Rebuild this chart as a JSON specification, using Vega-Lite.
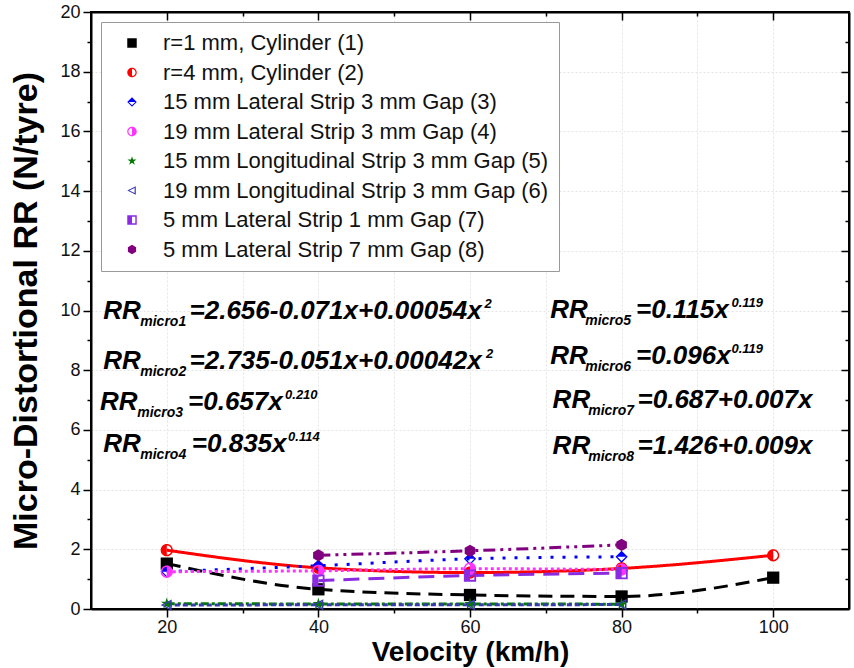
{
  "$schema": "https://vega.github.io/schema/vega-lite/v6.json",
  "width": 758,
  "height": 597,
  "autosize": {"type": "none"},
  "padding": {"left": 91, "top": 12, "right": 5, "bottom": 59},
  "background": "white",
  "config": {
    "view": {"stroke": "black", "strokeWidth": 2},
    "font": "Liberation Sans",
    "axis": {
      "domainColor": "black", "domainWidth": 2, "tickColor": "black", "tickWidth": 1.5,
      "labelFont": "Liberation Sans", "labelFontSize": 18, "labelColor": "#111",
      "titleFont": "Liberation Sans", "titleFontWeight": "bold", "titleColor": "black",
      "gridColor": "#e4e4e4", "gridDash": [2, 2], "gridWidth": 1
    }
  },
  "datasets": {
    "pts": [
      {"s": "r=1 mm, Cylinder (1)", "v": 20, "rr": 1.52},
      {"s": "r=1 mm, Cylinder (1)", "v": 40, "rr": 0.66},
      {"s": "r=1 mm, Cylinder (1)", "v": 60, "rr": 0.47},
      {"s": "r=1 mm, Cylinder (1)", "v": 80, "rr": 0.42},
      {"s": "r=1 mm, Cylinder (1)", "v": 100, "rr": 1.05},
      {"s": "r=4 mm, Cylinder (2)", "v": 20, "rr": 1.97},
      {"s": "r=4 mm, Cylinder (2)", "v": 40, "rr": 1.38},
      {"s": "r=4 mm, Cylinder (2)", "v": 60, "rr": 1.22},
      {"s": "r=4 mm, Cylinder (2)", "v": 80, "rr": 1.36},
      {"s": "r=4 mm, Cylinder (2)", "v": 100, "rr": 1.8},
      {"s": "15 mm Lateral Strip 3 mm Gap (3)", "v": 20, "rr": 1.25},
      {"s": "15 mm Lateral Strip 3 mm Gap (3)", "v": 40, "rr": 1.45},
      {"s": "15 mm Lateral Strip 3 mm Gap (3)", "v": 60, "rr": 1.68},
      {"s": "15 mm Lateral Strip 3 mm Gap (3)", "v": 80, "rr": 1.75},
      {"s": "19 mm Lateral Strip 3 mm Gap (4)", "v": 20, "rr": 1.25},
      {"s": "19 mm Lateral Strip 3 mm Gap (4)", "v": 40, "rr": 1.28},
      {"s": "19 mm Lateral Strip 3 mm Gap (4)", "v": 60, "rr": 1.35},
      {"s": "19 mm Lateral Strip 3 mm Gap (4)", "v": 80, "rr": 1.32},
      {"s": "15 mm Longitudinal Strip 3 mm Gap (5)", "v": 20, "rr": 0.18},
      {"s": "15 mm Longitudinal Strip 3 mm Gap (5)", "v": 40, "rr": 0.17},
      {"s": "15 mm Longitudinal Strip 3 mm Gap (5)", "v": 60, "rr": 0.17},
      {"s": "15 mm Longitudinal Strip 3 mm Gap (5)", "v": 80, "rr": 0.16},
      {"s": "19 mm Longitudinal Strip 3 mm Gap (6)", "v": 20, "rr": 0.13},
      {"s": "19 mm Longitudinal Strip 3 mm Gap (6)", "v": 40, "rr": 0.14},
      {"s": "19 mm Longitudinal Strip 3 mm Gap (6)", "v": 60, "rr": 0.14},
      {"s": "19 mm Longitudinal Strip 3 mm Gap (6)", "v": 80, "rr": 0.15},
      {"s": "5 mm Lateral Strip 1 mm Gap (7)", "v": 40, "rr": 0.95},
      {"s": "5 mm Lateral Strip 1 mm Gap (7)", "v": 60, "rr": 1.12},
      {"s": "5 mm Lateral Strip 1 mm Gap (7)", "v": 80, "rr": 1.2},
      {"s": "5 mm Lateral Strip 7 mm Gap (8)", "v": 40, "rr": 1.8},
      {"s": "5 mm Lateral Strip 7 mm Gap (8)", "v": 60, "rr": 1.95},
      {"s": "5 mm Lateral Strip 7 mm Gap (8)", "v": 80, "rr": 2.15}
    ],
    "eqs": [
      {"part": "main", "x": 11.6, "y": 9.7, "t": "RR"},
      {"part": "sub", "x": 16.5, "y": 9.7, "t": "micro1"},
      {"part": "main", "x": 23.0, "y": 9.7, "t": "=2.656-0.071x+0.00054x"},
      {"part": "sup", "x": 61.9, "y": 9.7, "t": "2"},
      {"part": "main", "x": 11.6, "y": 8.05, "t": "RR"},
      {"part": "sub", "x": 16.5, "y": 8.05, "t": "micro2"},
      {"part": "main", "x": 23.0, "y": 8.05, "t": "=2.735-0.051x+0.00042x"},
      {"part": "sup", "x": 62.1, "y": 8.05, "t": "2"},
      {"part": "main", "x": 11.2, "y": 6.65, "t": "RR"},
      {"part": "sub", "x": 16.1, "y": 6.65, "t": "micro3"},
      {"part": "main", "x": 22.8, "y": 6.65, "t": "=0.657x"},
      {"part": "sup", "x": 35.6, "y": 6.65, "t": "0.210"},
      {"part": "main", "x": 11.6, "y": 5.25, "t": "RR"},
      {"part": "sub", "x": 16.5, "y": 5.25, "t": "micro4"},
      {"part": "main", "x": 23.3, "y": 5.25, "t": "=0.835x"},
      {"part": "sup", "x": 36.0, "y": 5.25, "t": "0.114"},
      {"part": "main", "x": 70.6, "y": 9.75, "t": "RR"},
      {"part": "sub", "x": 75.2, "y": 9.75, "t": "micro5"},
      {"part": "main", "x": 81.9, "y": 9.75, "t": "=0.115x"},
      {"part": "sup", "x": 94.5, "y": 9.75, "t": "0.119"},
      {"part": "main", "x": 70.6, "y": 8.2, "t": "RR"},
      {"part": "sub", "x": 75.2, "y": 8.2, "t": "micro6"},
      {"part": "main", "x": 81.9, "y": 8.2, "t": "=0.096x"},
      {"part": "sup", "x": 94.5, "y": 8.2, "t": "0.119"},
      {"part": "main", "x": 70.9, "y": 6.75, "t": "RR"},
      {"part": "sub", "x": 75.6, "y": 6.75, "t": "micro7"},
      {"part": "main", "x": 82.1, "y": 6.75, "t": "=0.687+0.007x"},
      {"part": "main", "x": 70.9, "y": 5.2, "t": "RR"},
      {"part": "sub", "x": 75.6, "y": 5.2, "t": "micro8"},
      {"part": "main", "x": 82.1, "y": 5.2, "t": "=1.426+0.009x"}
    ]
  },
  "resolve": {"axis": {"x": "independent", "y": "independent"}},
  "layer": [
    {
      "data": {"name": "pts"},
      "mark": {"type": "line", "strokeWidth": 3, "interpolate": "monotone"},
      "encoding": {
        "x": {"field": "v", "type": "quantitative", "scale": {"domain": [10, 110], "nice": false},
          "axis": {"orient": "top", "values": [20, 30, 40, 50, 60, 70, 80, 90, 100], "labels": false, "title": null, "grid": false, "domainWidth": 2,
            "tickSize": {"condition": {"test": "datum.value % 20 === 0", "value": -8}, "value": -4}}},
        "y": {"field": "rr", "type": "quantitative", "scale": {"domain": [0, 20], "nice": false},
          "axis": {"orient": "right", "values": [1, 2, 3, 4, 5, 6, 7, 8, 9, 10, 11, 12, 13, 14, 15, 16, 17, 18, 19], "labels": false, "title": null, "grid": false, "domainWidth": 2,
            "tickSize": {"condition": {"test": "datum.value % 2 === 0", "value": -8}, "value": -4}}},
        "detail": {"field": "s", "type": "nominal"},
        "stroke": {"field": "s", "type": "nominal", "legend": null,
          "scale": {
            "domain": ["5 mm Lateral Strip 7 mm Gap (8)", "5 mm Lateral Strip 1 mm Gap (7)", "19 mm Longitudinal Strip 3 mm Gap (6)", "15 mm Longitudinal Strip 3 mm Gap (5)", "19 mm Lateral Strip 3 mm Gap (4)", "15 mm Lateral Strip 3 mm Gap (3)", "r=4 mm, Cylinder (2)", "r=1 mm, Cylinder (1)"],
            "range": ["#800080", "#8a2be2", "#3a3ab0", "#007a00", "#ff33ff", "#0000ff", "#ff0000", "#000000"]
          }},
        "strokeDash": {"field": "s", "type": "nominal", "legend": null,
          "scale": {
            "domain": ["5 mm Lateral Strip 7 mm Gap (8)", "5 mm Lateral Strip 1 mm Gap (7)", "19 mm Longitudinal Strip 3 mm Gap (6)", "15 mm Longitudinal Strip 3 mm Gap (5)", "19 mm Lateral Strip 3 mm Gap (4)", "15 mm Lateral Strip 3 mm Gap (3)", "r=4 mm, Cylinder (2)", "r=1 mm, Cylinder (1)"],
            "range": [[12, 5, 3, 5, 3, 5], [16, 9], [5, 3], [8, 3, 3, 3], [3, 3], [3, 9], [1, 0], [14, 8]]
          }}
      }
    },
    {
      "data": {"name": "pts"},
      "mark": {"type": "point", "filled": true, "size": 150, "opacity": 1},
      "encoding": {
        "x": {"field": "v", "type": "quantitative",
          "axis": {"orient": "bottom", "title": "Velocity (km/h)", "values": [20, 30, 40, 50, 60, 70, 80, 90, 100],
            "labelExpr": "datum.value % 20 === 0 ? datum.label : ''", "labelPadding": 1, "titlePadding": 2, "titleFontSize": 28,
            "tickSize": {"condition": {"test": "datum.value % 20 === 0", "value": 8}, "value": 4}, "grid": true}},
        "y": {"field": "rr", "type": "quantitative",
          "axis": {"orient": "left", "title": "Micro-Distortional RR (N/tyre)", "values": [0, 1, 2, 3, 4, 5, 6, 7, 8, 9, 10, 11, 12, 13, 14, 15, 16, 17, 18, 19, 20],
            "labelExpr": "datum.value % 2 === 0 ? datum.label : ''", "labelPadding": 3, "titlePadding": 16, "titleFontSize": 34,
            "tickSize": {"condition": {"test": "datum.value % 2 === 0", "value": 8}, "value": 4}, "grid": true,
            "gridOpacity": {"condition": {"test": "datum.value % 2 === 0", "value": 1}, "value": 0}}},
        "color": {"field": "s", "type": "nominal",
          "legend": {"orient": "top-left", "title": null, "offset": 10, "padding": 10, "strokeColor": "#999", "fillColor": "white",
            "labelFont": "Liberation Sans", "labelFontSize": 22, "labelColor": "#111", "labelLimit": 700,
            "symbolSize": 90, "rowPadding": 7.5, "labelOffset": 20, "symbolOffset": 10},
          "scale": {
            "domain": ["r=1 mm, Cylinder (1)", "r=4 mm, Cylinder (2)", "15 mm Lateral Strip 3 mm Gap (3)", "19 mm Lateral Strip 3 mm Gap (4)", "15 mm Longitudinal Strip 3 mm Gap (5)", "19 mm Longitudinal Strip 3 mm Gap (6)", "5 mm Lateral Strip 1 mm Gap (7)", "5 mm Lateral Strip 7 mm Gap (8)"],
            "range": ["#000000", "#ff0000", "#0000ff", "#ff33ff", "#007a00", "#3a3ab0", "#8a2be2", "#800080"]
          }},
        "shape": {"field": "s", "type": "nominal",
          "legend": {"orient": "top-left", "title": null},
          "scale": {
            "domain": ["r=1 mm, Cylinder (1)", "r=4 mm, Cylinder (2)", "15 mm Lateral Strip 3 mm Gap (3)", "19 mm Lateral Strip 3 mm Gap (4)", "15 mm Longitudinal Strip 3 mm Gap (5)", "19 mm Longitudinal Strip 3 mm Gap (6)", "5 mm Lateral Strip 1 mm Gap (7)", "5 mm Lateral Strip 7 mm Gap (8)"],
            "range": [
              "square",
              "M0,-1A1,1,0,0,0,0,1ZM0,-1A1,1,0,0,1,0,1L0,0.75A0.75,0.75,0,0,0,0,-0.75Z",
              "M-1,0L0,-1L1,0ZM-1,0L0,1L1,0L0.7,0L0,0.7L-0.7,0Z",
              "M0,-1A1,1,0,0,1,0,1ZM0,-1A1,1,0,0,0,0,1L0,0.75A0.75,0.75,0,0,1,0,-0.75Z",
              "M0,-1L0.225,-0.31L0.951,-0.31L0.364,0.118L0.588,0.809L0,0.382L-0.588,0.809L-0.364,0.118L-0.951,-0.31L-0.225,-0.31Z",
              "M-1,0L0.8,-0.9L0.8,0.9ZM-0.55,0L0.55,0.55L0.55,-0.55Z",
              "M-1,-1L0,-1L0,1L-1,1ZM0,-1L1,-1L1,1L0,1L0,0.7L0.7,0.7L0.7,-0.7L0,-0.7Z",
              "M0,-1L0.866,-0.5L0.866,0.5L0,1L-0.866,0.5L-0.866,-0.5Z"
            ]
          }}
      }
    },
    {
      "data": {"name": "eqs"},
      "transform": [{"filter": "datum.part === 'main'"}],
      "mark": {"type": "text", "align": "left", "baseline": "alphabetic", "font": "Liberation Sans", "fontWeight": "bold", "fontStyle": "italic", "fontSize": 26, "color": "black"},
      "encoding": {
        "x": {"field": "x", "type": "quantitative", "axis": null},
        "y": {"field": "y", "type": "quantitative", "axis": null},
        "text": {"field": "t"}
      }
    },
    {
      "data": {"name": "eqs"},
      "transform": [{"filter": "datum.part === 'sub'"}],
      "mark": {"type": "text", "align": "left", "baseline": "alphabetic", "dy": 7, "font": "Liberation Sans", "fontWeight": "bold", "fontStyle": "italic", "fontSize": 14, "color": "black"},
      "encoding": {
        "x": {"field": "x", "type": "quantitative", "axis": null},
        "y": {"field": "y", "type": "quantitative", "axis": null},
        "text": {"field": "t"}
      }
    },
    {
      "data": {"name": "eqs"},
      "transform": [{"filter": "datum.part === 'sup'"}],
      "mark": {"type": "text", "align": "left", "baseline": "alphabetic", "dy": -11, "font": "Liberation Sans", "fontWeight": "bold", "fontStyle": "italic", "fontSize": 13, "color": "black"},
      "encoding": {
        "x": {"field": "x", "type": "quantitative", "axis": null},
        "y": {"field": "y", "type": "quantitative", "axis": null},
        "text": {"field": "t"}
      }
    }
  ]
}
